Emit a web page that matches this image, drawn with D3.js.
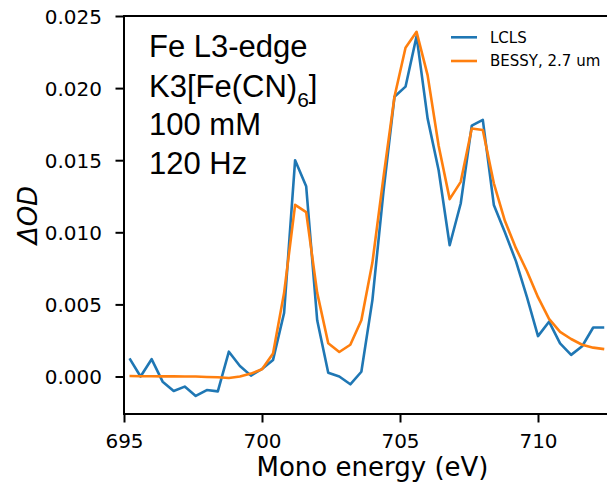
<!DOCTYPE html>
<html>
<head>
<meta charset="utf-8">
<script src="https://cdn.jsdelivr.net/npm/d3@7"></script>
<style>
html,body{margin:0;padding:0;background:#fff;overflow:hidden;}
svg{display:block;}
</style>
</head>
<body>
<svg id="chart" width="607" height="482"></svg>
<script>
// ---- data ----
const energies = d3.range(44).map(i => +(695.2 + 0.4 * i).toFixed(1));
const lcls = [0.00126, 0.0000, 0.0012, -0.00036, -0.0010, -0.0007, -0.00135, -0.00094, -0.00103, 0.00172,
  0.00073, 0.00006, 0.00052, 0.00115, 0.0044, 0.0150, 0.0132, 0.0039, 0.00026, 0.0000,
  -0.00054, 0.00033, 0.0053, 0.0128, 0.0194, 0.0201, 0.0236, 0.0179, 0.0143, 0.0091,
  0.0120, 0.0174, 0.0178, 0.0119, 0.0100, 0.0080, 0.0055, 0.0028, 0.0038, 0.0023,
  0.0015, 0.0021, 0.0034, 0.0034];
const bessy = [0.00003, 0.00002, 0.00002, 0.00001, 0.00001, 0.0, 0.0, -0.00003, -0.00005, -0.0001,
  0.0000, 0.0002, 0.0005, 0.0016, 0.0058, 0.0119, 0.0114, 0.0058, 0.0023, 0.0017,
  0.0022, 0.0039, 0.0079, 0.0138, 0.0194, 0.0228, 0.0239, 0.0209, 0.0160, 0.0123,
  0.0135, 0.0172, 0.0171, 0.0134, 0.0108, 0.0089, 0.0073, 0.0055, 0.0040, 0.0031,
  0.0026, 0.0022, 0.0020, 0.0019];
const seriesNames = ["LCLS", "BESSY, 2.7 um"];
const seriesColors = ["#1f77b4", "#ff7f0e"];
const xTicks = [695, 700, 705, 710];
const yTicks = [0, 0.005, 0.010, 0.015, 0.020, 0.025];
const annotation = ["Fe L3-edge", "K3[Fe(CN)6]", "100 mM", "120 Hz"];

// ---- layout ----
const svg = d3.select("#chart");
const mLeft = 124, mTop = 16, mBottom = 414, mRight = 660;
const x = d3.scaleLinear().domain([695, 695 + (mRight - mLeft) / 27.6]).range([mLeft, mRight]);
const y = d3.scaleLinear().domain([0, 0.025]).range([376.5, 16]);

const font = "'DejaVu Sans', sans-serif";

// lines
const line = d3.line().x((d, i) => x(energies[i])).y(d => y(d));
const g = svg.append("g");
[lcls, bessy].forEach((s, k) => {
  g.append("path").datum(s)
    .attr("d", line)
    .attr("fill", "none")
    .attr("stroke", seriesColors[k])
    .attr("stroke-width", 2.6)
    .attr("stroke-linejoin", "round")
    .attr("stroke-linecap", "butt");
});

// spines
svg.append("line").attr("x1", mLeft).attr("x2", mLeft).attr("y1", mTop).attr("y2", mBottom)
  .attr("stroke", "#000").attr("stroke-width", 2).attr("stroke-linecap", "square");
svg.append("line").attr("x1", mLeft).attr("x2", mRight).attr("y1", mBottom).attr("y2", mBottom)
  .attr("stroke", "#000").attr("stroke-width", 2).attr("stroke-linecap", "square");
svg.append("line").attr("x1", mLeft).attr("x2", mRight).attr("y1", mTop).attr("y2", mTop)
  .attr("stroke", "#000").attr("stroke-width", 2).attr("stroke-linecap", "square");

// axes
const xAxis = d3.axisBottom(x).tickValues(xTicks).tickFormat(d3.format("d")).tickSizeInner(8.5).tickSizeOuter(0).tickPadding(10);
const gx = svg.append("g").attr("transform", `translate(0,${mBottom})`).call(xAxis);
gx.select(".domain").remove();
gx.selectAll(".tick line").attr("stroke", "#000").attr("stroke-width", 2);
gx.selectAll(".tick text").attr("font-family", font).attr("font-size", 20).attr("fill", "#000")
  .attr("dy", null).attr("y", 34);

const yAxis = d3.axisLeft(y).tickValues(yTicks).tickFormat(d3.format(".3f")).tickSizeInner(8.5).tickSizeOuter(0).tickPadding(13);
const gy = svg.append("g").attr("transform", `translate(${mLeft},0)`).call(yAxis);
gy.select(".domain").remove();
gy.selectAll(".tick line").attr("stroke", "#000").attr("stroke-width", 2);
gy.selectAll(".tick text").attr("font-family", font).attr("font-size", 20).attr("fill", "#000")
  .attr("x", -22).attr("dy", "0.36em");

// axis labels
svg.append("text").attr("x", 372.5).attr("y", 476).attr("text-anchor", "middle")
  .attr("font-family", font).attr("font-size", 26).attr("fill", "#000").text("Mono energy (eV)");
svg.append("text").attr("transform", "translate(37,215) rotate(-90)").attr("text-anchor", "middle")
  .attr("font-family", font).attr("font-size", 26).attr("font-style", "italic").attr("fill", "#000")
  .text("ΔOD");

// annotation
const ann = svg.append("g").attr("font-family", "'Liberation Sans', Arial, sans-serif").attr("font-size", 31).attr("fill", "#000");
const baselines = [57, 96.5, 135, 173.5];
annotation.forEach((t, i) => {
  const txt = ann.append("text").attr("x", 149).attr("y", baselines[i]);
  if (t === "K3[Fe(CN)6]") {
    txt.append("tspan").text("K3[Fe(CN)");
    txt.append("tspan").attr("font-size", 21).attr("dy", 10).text("6");
    txt.append("tspan").attr("dy", -10).text("]");
  } else {
    txt.text(t);
  }
});

// legend
const leg = svg.append("g");
seriesNames.forEach((n, k) => {
  const yy = 37.3 + k * 23.7;
  leg.append("line").attr("x1", 451).attr("x2", 477).attr("y1", yy).attr("y2", yy)
    .attr("stroke", seriesColors[k]).attr("stroke-width", 2.6);
  leg.append("text").attr("x", 490).attr("y", yy + 5.2)
    .attr("font-family", font).attr("font-size", 15).attr("fill", "#000").text(n);
});
</script>
</body>
</html>
